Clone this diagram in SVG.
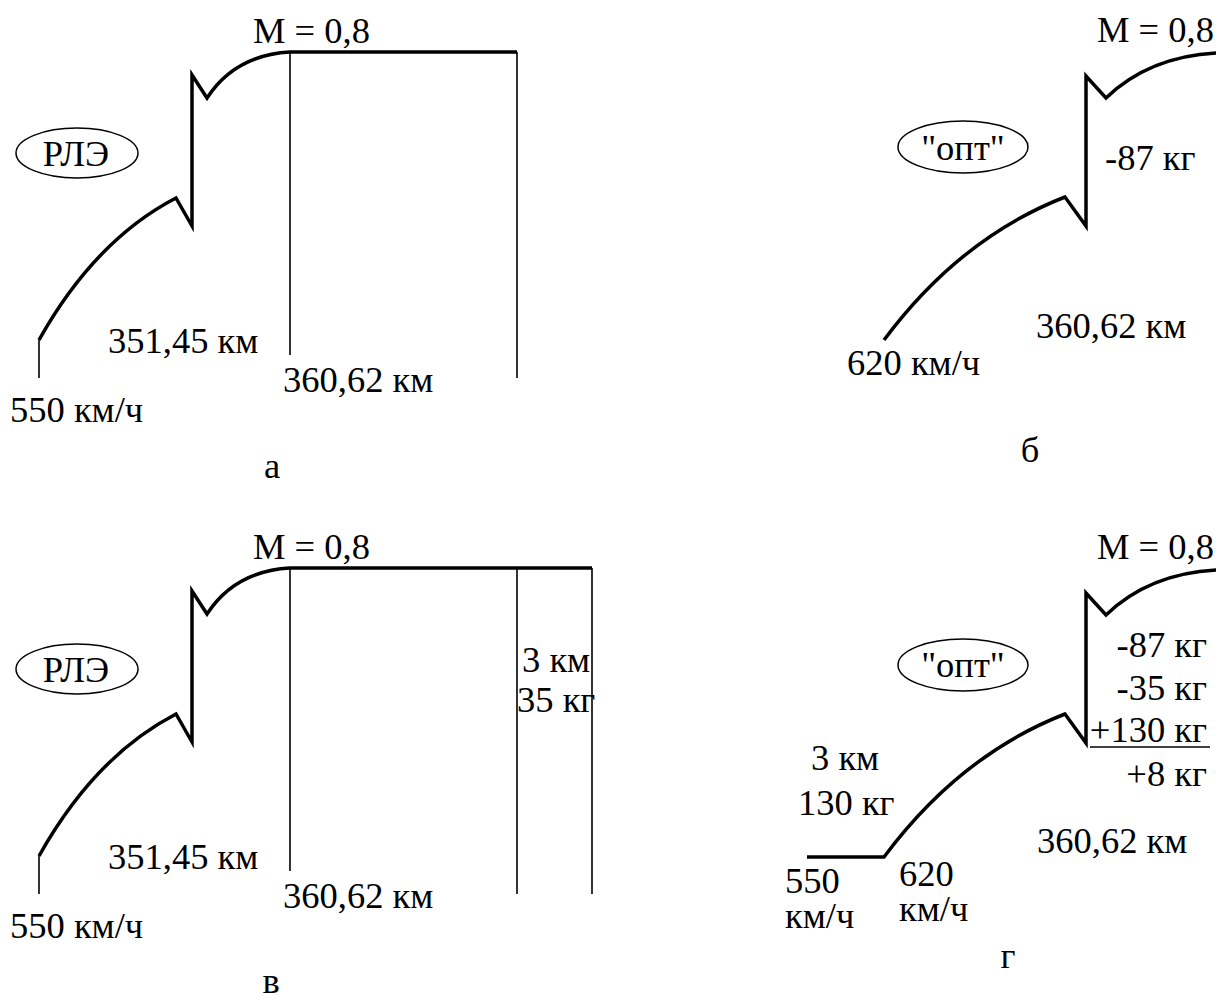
<svg xmlns="http://www.w3.org/2000/svg" width="1216" height="996" viewBox="0 0 1216 996" font-family="Liberation Serif, serif">
<style>
text{font-family:'Liberation Serif',serif;font-size:36.5px;fill:#000}
.c{text-anchor:middle}
.e{text-anchor:end}
.thick{fill:none;stroke:#000;stroke-width:3.5;stroke-linejoin:miter}
.thin{fill:none;stroke:#000;stroke-width:1.6}
.ell{fill:none;stroke:#000;stroke-width:1.5}
</style>
<rect width="1216" height="996" fill="#fff"/>

<!-- Panel a -->
<g id="panel-a">
  <g id="a-connectors">
    <path class="thick" d="M39,340 Q95,240 176,198 L192,226 L192,75 L207,98 Q235,55 290,52 L517,52"/>
    <line class="thin" x1="39" y1="340" x2="39" y2="378"/>
    <line class="thin" x1="290" y1="52" x2="290" y2="355"/>
    <line class="thin" x1="517" y1="52" x2="517" y2="378"/>
  </g>
  <g id="a-mode">
    <ellipse class="ell" cx="77" cy="153" rx="61" ry="25"/>
    <text class="c" x="76" y="166">РЛЭ</text>
  </g>
  <text x="253" y="43">M = 0,8</text>
  <text x="108" y="353">351,45 км</text>
  <text x="283" y="392">360,62 км</text>
  <text x="10" y="422">550 км/ч</text>
  <text class="c" x="272" y="478">а</text>
</g>

<!-- Panel b -->
<g id="panel-b">
  <g id="b-connectors">
    <path class="thick" d="M884,340 Q960,238 1065,197 L1086,226 L1086,76 L1106,98 Q1150,56 1218,53"/>
  </g>
  <g id="b-mode">
    <ellipse class="ell" cx="963" cy="147" rx="65" ry="26"/>
    <text class="c" x="963" y="160">"опт"</text>
  </g>
  <text x="1097" y="42">M = 0,8</text>
  <text x="1105" y="170">-87 кг</text>
  <text x="1036" y="338">360,62 км</text>
  <text x="847" y="375">620 км/ч</text>
  <text class="c" x="1030" y="462">б</text>
</g>

<!-- Panel c -->
<g id="panel-c" transform="translate(0,516)">
  <g id="c-connectors">
    <path class="thick" d="M39,340 Q95,240 176,198 L192,226 L192,75 L207,98 Q235,55 290,52 L592,52"/>
    <line class="thin" x1="39" y1="340" x2="39" y2="378"/>
    <line class="thin" x1="290" y1="52" x2="290" y2="355"/>
    <line class="thin" x1="517" y1="52" x2="517" y2="378"/>
    <line class="thin" x1="592" y1="52" x2="592" y2="378"/>
  </g>
  <g id="c-mode">
    <ellipse class="ell" cx="77" cy="153" rx="61" ry="25"/>
    <text class="c" x="76" y="166">РЛЭ</text>
  </g>
  <text x="253" y="43">M = 0,8</text>
  <text x="522" y="156">3 км</text>
  <text x="517" y="196">35 кг</text>
  <text x="108" y="353">351,45 км</text>
  <text x="283" y="392">360,62 км</text>
  <text x="10" y="422">550 км/ч</text>
  <text class="c" x="271" y="477">в</text>
</g>

<!-- Panel d -->
<g id="panel-d">
  <g id="d-connectors">
    <path class="thick" d="M807,857 L884,857 Q960,755 1065,714 L1086,743 L1086,593 L1106,615 Q1150,573 1218,570"/>
    <line class="thin" x1="1090" y1="747" x2="1210" y2="747"/>
  </g>
  <g id="d-mode">
    <ellipse class="ell" cx="963" cy="665" rx="65" ry="26"/>
    <text class="c" x="963" y="677">"опт"</text>
  </g>
  <text x="1097" y="559">M = 0,8</text>
  <text class="e" x="1207" y="657">-87 кг</text>
  <text class="e" x="1207" y="700">-35 кг</text>
  <text class="e" x="1207" y="742">+130 кг</text>
  <text class="e" x="1207" y="786">+8 кг</text>
  <text x="811" y="770">3 км</text>
  <text x="798" y="815">130 кг</text>
  <text x="1037" y="853">360,62 км</text>
  <text x="785" y="893">550</text>
  <text x="785" y="928">км/ч</text>
  <text x="899" y="886">620</text>
  <text x="899" y="921">км/ч</text>
  <text class="c" x="1008" y="968">г</text>
</g>
</svg>
